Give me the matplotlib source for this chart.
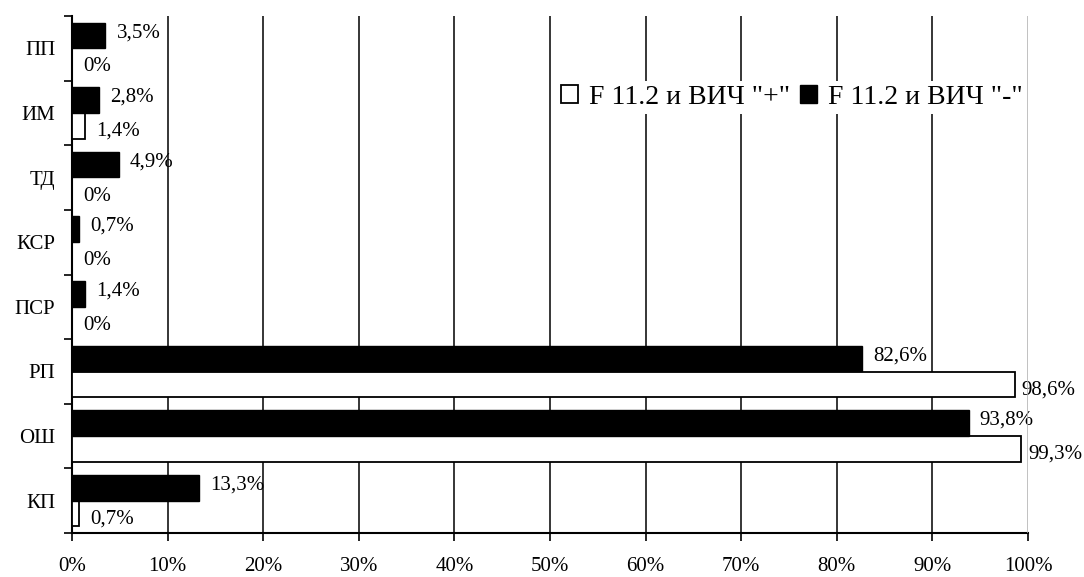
import matplotlib
matplotlib.use("Agg")
import matplotlib.pyplot as plt
from matplotlib.ticker import FixedLocator, PercentFormatter

plt.rcParams['font.family'] = ['Liberation Serif', 'DejaVu Serif']

categories = ["КП", "ОШ", "РП", "ПСР", "КСР", "ТД", "ИМ", "ПП"]
hiv_pos = [0.7, 99.3, 98.6, 0, 0, 0, 1.4, 0]
hiv_neg = [13.3, 93.8, 82.6, 1.4, 0.7, 4.9, 2.8, 3.5]
label_pos = ['F 11.2 и ВИЧ "+"']
label_neg = ['F 11.2 и ВИЧ "-"']

fig = plt.figure(figsize=(10.84, 5.77), dpi=100)
ax = fig.add_axes([72 / 1084, 44 / 577, 956 / 1084, 517 / 577])

idx = list(range(len(categories)))
h = 0.395
pos_y = [i - 0.2 for i in idx]
neg_y = [i + 0.2 for i in idx]

ax.barh(pos_y, hiv_pos, height=h, color="white", edgecolor="black",
        linewidth=1.3, zorder=3, label=label_pos[0])
ax.barh(neg_y, hiv_neg, height=h, color="black", edgecolor="black",
        linewidth=1.0, zorder=3, label=label_neg[0])


def fmt(v):
    s = f"{v:.1f}".replace(".", ",")
    if s.endswith(",0"):
        s = s[:-2]
    return s + "%"


for y, v in zip(neg_y, hiv_neg):
    ax.annotate(fmt(v), (v, y), xytext=(8, 2), textcoords="offset points",
                ha="left", va="center", fontsize=15, zorder=5)
for y, v in zip(pos_y, hiv_pos):
    dx = 5 if v > 95 else 8
    ax.annotate(fmt(v), (v, y), xytext=(dx, -4), textcoords="offset points",
                ha="left", va="center", fontsize=15, zorder=5)

ax.set_xlim(0, 100)
ax.set_ylim(-0.5, len(categories) - 0.5)

ax.xaxis.set_major_locator(FixedLocator(range(0, 101, 10)))
ax.xaxis.set_major_formatter(PercentFormatter(decimals=0))
ax.tick_params(axis="x", direction="out", length=6, width=1.2, pad=11,
               labelsize=15)

ax.set_yticks(idx)
ax.set_yticklabels(categories)
ax.set_yticks([i - 0.5 for i in range(len(categories) + 1)], minor=True)
ax.tick_params(axis="y", which="major", length=0, pad=12, labelsize=15)
ax.tick_params(axis="y", which="minor", direction="out", length=6, width=1.2)

for x in range(10, 100, 10):
    ax.axvline(x, color="black", linewidth=1.1, zorder=1)
ax.axvline(100, color="#b0b0b0", linewidth=1.1, zorder=7)

for side in ("top", "right"):
    ax.spines[side].set_visible(False)
ax.spines["left"].set_linewidth(1.5)
ax.spines["bottom"].set_linewidth(1.5)

leg = ax.legend(loc="center", bbox_to_anchor=(0.753, 0.843), ncol=2,
                fontsize=20, frameon=True, fancybox=False,
                handlelength=0.6, handleheight=0.6, handletextpad=0.4,
                columnspacing=0.35, borderpad=0.15)
leg.get_frame().set_facecolor("white")
leg.get_frame().set_edgecolor("none")
leg.get_frame().set_alpha(1)
leg.set_zorder(6)

fig.savefig("out.png", dpi=100, facecolor="white")
